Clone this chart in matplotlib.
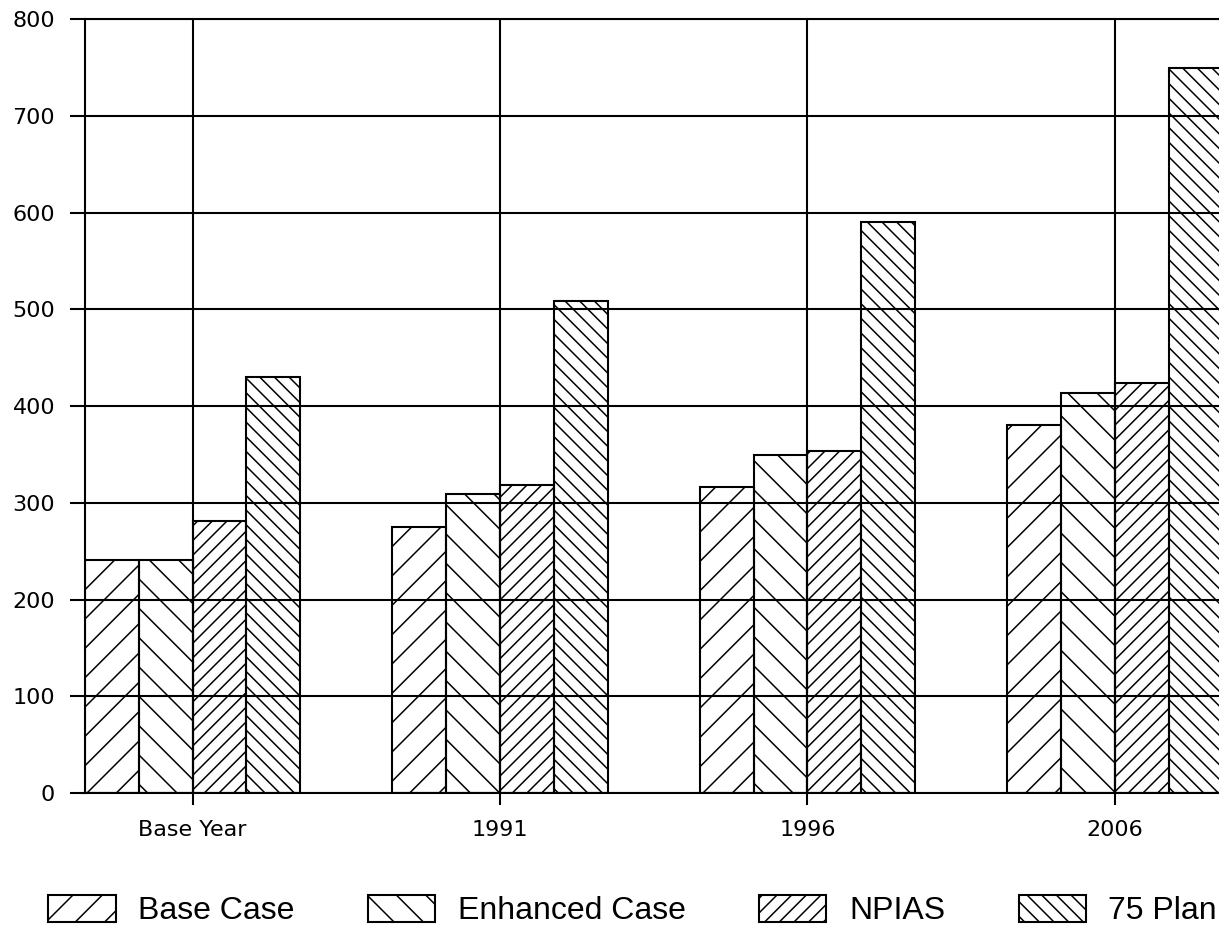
import numpy as np
import matplotlib
matplotlib.use("Agg")
import matplotlib.pyplot as plt
from matplotlib.patches import Patch

# -----------------------------
# Data
# -----------------------------
years = ["Base Year", "1991", "1996", "2006"]
series_names = ["Base Case", "Enhanced Case", "NPIAS", "75 Plan"]

base_case = [241, 275, 316, 381]
enhanced_case = [241, 309, 350, 414]
npias = [281, 319, 354, 424]
plan_75 = [430, 509, 590, 750]

y_ticks = [0, 100, 200, 300, 400, 500, 600, 700, 800]

# -----------------------------
# Style
# -----------------------------
DPI = 176
plt.rcParams["hatch.linewidth"] = 0.62
plt.rcParams["hatch.color"] = "black"

hatches = ["//", "\\\\", "////", "\\\\\\\\"]
series = [base_case, enhanced_case, npias, plan_75]

fig = plt.figure(figsize=(1219 / DPI, 931 / DPI), dpi=DPI)
ax = fig.add_axes([0.0697, 0.148, 0.9303, 0.8314])

x = np.arange(len(years))
width = 0.175
offsets = [-1.5, -0.5, 0.5, 1.5]

for vals, h, off in zip(series, hatches, offsets):
    ax.bar(x + off * width, vals, width,
           facecolor="none", edgecolor="black", hatch=h, linewidth=0.85)

ax.set_xlim(-2 * width, 3.339)
ax.set_ylim(0, 800)

ax.set_xticks(x)
ax.set_xticklabels(years, fontsize=9.1, family="DejaVu Sans")
ax.set_yticks(y_ticks)
ax.set_yticklabels([str(v) for v in y_ticks], fontsize=9.1, family="DejaVu Sans")

ax.tick_params(axis="y", length=6.1, width=0.85, pad=6.1)
ax.tick_params(axis="x", length=4.9, width=0.85, pad=6.1)

ax.grid(True, color="black", linewidth=0.85)
ax.set_axisbelow(True)

for side in ["left", "bottom", "top"]:
    ax.spines[side].set_linewidth(0.85)
ax.spines["right"].set_visible(False)

# -----------------------------
# Legend
# -----------------------------
handles = [Patch(facecolor="white", edgecolor="black", hatch=h, linewidth=0.85)
           for h in hatches]
fig.legend(handles, series_names, loc="center", bbox_to_anchor=(0.519, 0.022),
           ncol=4, frameon=False, handlelength=2.1, handleheight=0.95,
           columnspacing=2.3, handletextpad=0.7, borderpad=0.2,
           prop={"family": "Liberation Sans", "size": 13.1})

fig.savefig("out.png", dpi=DPI)
